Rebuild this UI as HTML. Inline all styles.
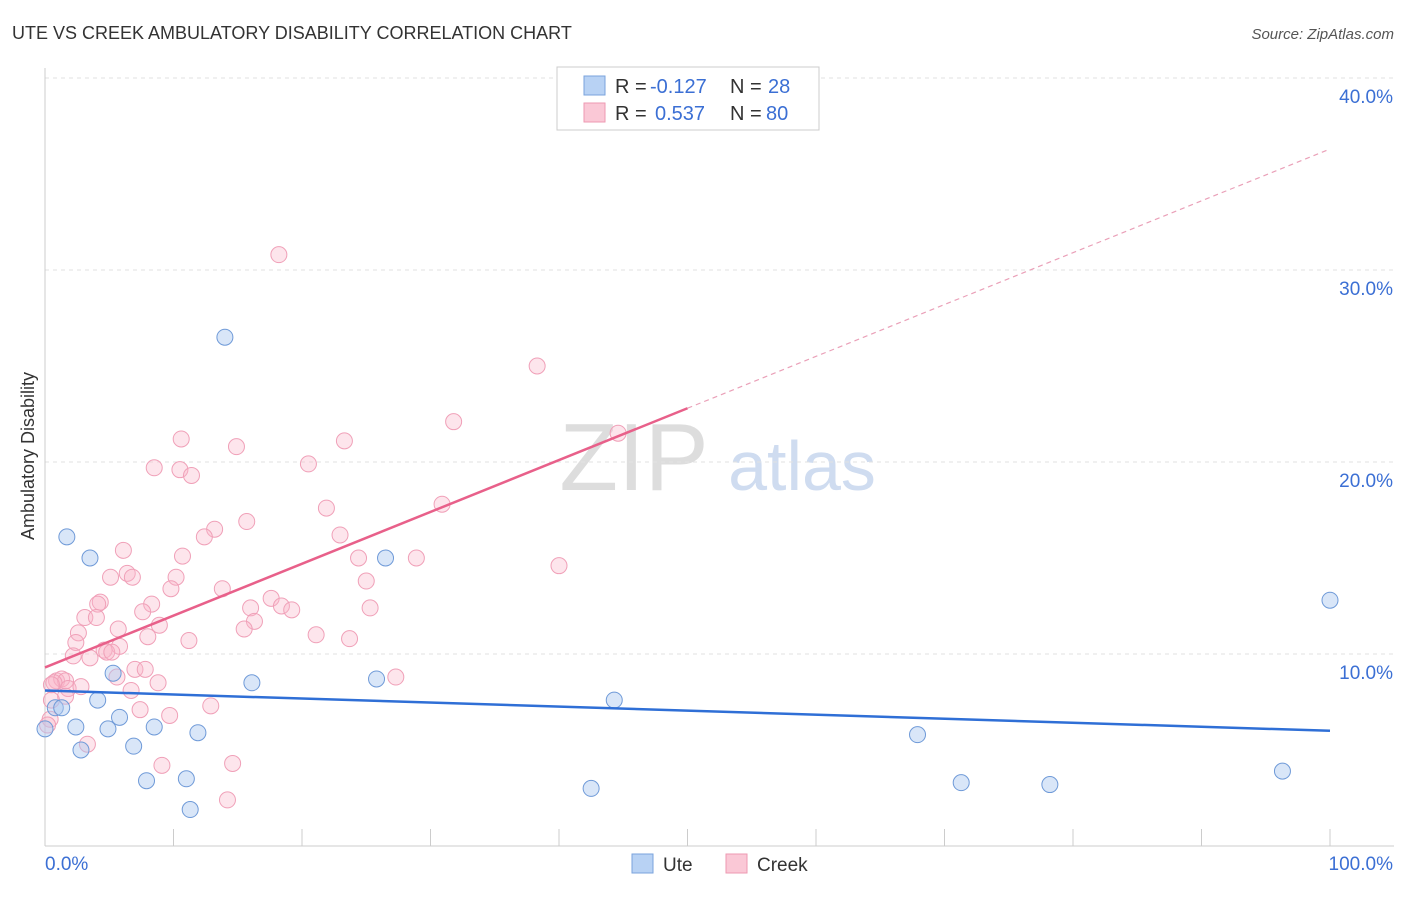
<!DOCTYPE html>
<html><head><meta charset="utf-8">
<style>
body{margin:0;background:#fff;font-family:"Liberation Sans",sans-serif;}
svg text{font-family:"Liberation Sans",sans-serif;}
</style></head>
<body>
<svg id="chart" width="1406" height="892" xmlns="http://www.w3.org/2000/svg">
<text x="12" y="39" font-size="18" fill="#333">UTE VS CREEK AMBULATORY DISABILITY CORRELATION CHART</text>
<text x="1394" y="39" font-size="15" fill="#555" text-anchor="end" font-style="italic">Source: ZipAtlas.com</text>
<text x="634" y="490" font-size="96" fill="#ddd" text-anchor="middle" font-family="Liberation Serif">ZIP</text>
<text x="802" y="490" font-size="70" fill="#cfdcf0" text-anchor="middle">atlas</text>
<text transform="translate(34,456) rotate(-90)" font-size="18" fill="#333" text-anchor="middle">Ambulatory Disability</text>
<g id="grid"></g><g id="marks"></g>
<g>
<rect x="557" y="67" width="262" height="63" fill="#fff" stroke="#ccc"/>
<rect x="584" y="76" width="21" height="19" fill="#b8d2f4" stroke="#7aa3dc"/>
<rect x="584" y="103" width="21" height="19" fill="#fac8d6" stroke="#ee99b2"/>
<text x="615" y="93" font-size="20" fill="#333">R =</text>
<text x="650" y="93" font-size="20" fill="#3b6fd4">-0.127</text>
<text x="730" y="93" font-size="20" fill="#333">N =</text>
<text x="768" y="93" font-size="20" fill="#3b6fd4">28</text>
<text x="615" y="120" font-size="20" fill="#333">R =</text>
<text x="655" y="120" font-size="20" fill="#3b6fd4">0.537</text>
<text x="730" y="120" font-size="20" fill="#333">N =</text>
<text x="766" y="120" font-size="20" fill="#3b6fd4">80</text>
</g>
<g>
<rect x="632" y="854" width="21" height="19" fill="#b8d2f4" stroke="#7aa3dc"/>
<text x="663" y="871" font-size="19" fill="#333">Ute</text>
<rect x="726" y="854" width="21" height="19" fill="#fac8d6" stroke="#ee99b2"/>
<text x="757" y="871" font-size="19" fill="#333">Creek</text>
</g>
</svg>
<script>
const yTicks=[10,20,30,40];
const xTickLabels=["0.0%","100.0%"];
const uteX=[1.7,3.5,14,26.5,100,5.3,16.1,25.8,44.3,0.8,1.3,4.1,2.4,4.9,5.8,8.5,11.9,0,2.8,6.9,7.9,11,11.3,42.5,67.9,71.3,78.2,96.3];
const uteY=[16.1,15,26.5,15,12.8,9,8.5,8.7,7.6,7.2,7.2,7.6,6.2,6.1,6.7,6.2,5.9,6.1,5,5.2,3.4,3.5,1.9,3,5.8,3.3,3.2,3.9];
const creekX=[18.2,38.3,31.8,44.6,10.6,14.9,23.3,8.5,10.5,11.4,20.5,30.9,21.9,15.7,13.2,12.4,22.96,6.1,10.7,24.4,28.9,40,5.1,6.4,6.8,10.2,25,9.8,13.8,4.3,4.1,8.3,17.6,16,18.4,19.2,25.3,7.6,3.1,4,8.9,5.7,2.6,16.3,15.5,21.1,23.7,8,11.2,2.4,4.6,5.8,4.8,5.2,2.2,3.5,7,7.8,5.6,0.9,1.3,1.6,0.7,0.5,1.8,2.8,8.8,27.3,6.7,1.6,0.5,12.9,7.4,9.7,0.4,3.3,9.1,14.6,14.2,0.2];
const creekY=[30.8,25,22.1,21.5,21.2,20.8,21.1,19.7,19.6,19.3,19.9,17.8,17.6,16.9,16.5,16.1,16.2,15.4,15.1,15,15,14.6,14,14.2,14,14,13.8,13.4,13.4,12.7,12.6,12.6,12.9,12.4,12.5,12.3,12.4,12.2,11.9,11.9,11.5,11.3,11.1,11.7,11.3,11,10.8,10.9,10.7,10.6,10.2,10.4,10.1,10.1,9.9,9.8,9.2,9.2,8.8,8.6,8.7,8.6,8.5,8.4,8.2,8.3,8.5,8.8,8.1,7.8,7.6,7.3,7.1,6.8,6.6,5.3,4.2,4.3,2.4,6.3];
const uteLine=[8.1,6.0];
const creekLine=[9.3,36.3];
const NS="http://www.w3.org/2000/svg";
const xs=v=>45+v*12.85, ys=v=>846-v*19.2;
function mk(tag,attrs,parent){const e=document.createElementNS(NS,tag);for(const k in attrs)e.setAttribute(k,attrs[k]);parent.appendChild(e);return e;}
const grid=document.getElementById('grid'), marks=document.getElementById('marks');
yTicks.forEach(t=>{
 const l=mk('line',{x1:45,x2:1394,y1:ys(t),y2:ys(t),stroke:'#e2e2e2','stroke-dasharray':'4,4'},grid);
 
 
 const tx=mk('text',{x:1393,y:ys(t)+25,'font-size':19,fill:'#3b6fd4','text-anchor':'end'},grid);
 tx.textContent=t.toFixed(1)+'%';
 
 
});
mk('line',{x1:45,x2:45,y1:68,y2:846,stroke:'#ccc'},grid);
mk('line',{x1:45,x2:1394,y1:846,y2:846,stroke:'#ccc'},grid);
for(let i=0;i<=10;i++){mk('line',{x1:xs(i*10),x2:xs(i*10),y1:829,y2:846,stroke:'#ccc'},grid);}
const xl1=mk('text',{x:45,y:870,'font-size':19,fill:'#3b6fd4'},grid);xl1.textContent=xTickLabels[0];


const xl2=mk('text',{x:1393,y:870,'font-size':19,fill:'#3b6fd4','text-anchor':'end'},grid);xl2.textContent=xTickLabels[1];


creekX.forEach((x,i)=>{
 const c=mk('circle',{cx:xs(x),cy:ys(creekY[i]),r:8,fill:'rgba(248,180,200,0.35)',stroke:'#f0a0b8','stroke-width':1},marks);
 
 
});
uteX.forEach((x,i)=>{
 const c=mk('circle',{cx:xs(x),cy:ys(uteY[i]),r:8,fill:'rgba(170,200,240,0.45)',stroke:'#6f9ad8','stroke-width':1},marks);
 
 
});
const ul=mk('line',{x1:xs(0),y1:ys(uteLine[0]),x2:xs(100),y2:ys(uteLine[1]),stroke:'#2f6fd6','stroke-width':2.5},marks);


const cAt=x=>creekLine[0]+(creekLine[1]-creekLine[0])*x/100;
const cl=mk('line',{x1:xs(0),y1:ys(cAt(0)),x2:xs(50),y2:ys(cAt(50)),stroke:'#e8608a','stroke-width':2.5},marks);


const cd=mk('line',{x1:xs(50),y1:ys(cAt(50)),x2:xs(100),y2:ys(cAt(100)),stroke:'#eaa0b8','stroke-width':1.2,'stroke-dasharray':'5,4'},marks);


</script>
</body></html>
